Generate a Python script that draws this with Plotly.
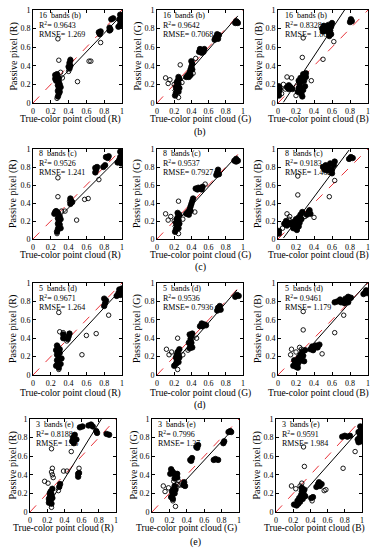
import plotly.graph_objects as go

# ---------------- DATA ----------------
bands = ["16", "8", "5", "3"]
band_tags = ["b", "c", "d", "e"]
channels = ["R", "G", "B"]
tick_vals = [0, 0.2, 0.4, 0.6, 0.8, 1]
tick_text = ["0", "0.2", "0.4", "0.6", "0.8", "1"]

r2_text = [["0.9643", "0.9642", "0.8328"],
           ["0.9526", "0.9537", "0.9183"],
           ["0.9671", "0.9536", "0.9461"],
           ["0.8188", "0.7996", "0.9591"]]
rmse_text = [["1.269", "0.7068", "1.866"],
             ["1.241", "0.7927", "1.462"],
             ["1.264", "0.7936", "1.179"],
             ["1.96", "1.37", "1.984"]]

# regression lines: slope, intercept, x start, x end
fit_R16 = (1.00, -0.05, 0.30, 0.98)
fit_G16 = (1.06, -0.06, 0.18, 0.94)
fit_B16 = (1.46, -0.08, 0.06, 0.74)
fit_R8 = (0.99, -0.05, 0.28, 1.00)
fit_G8 = (1.05, -0.05, 0.18, 0.93)
fit_B8 = (1.34, -0.07, 0.06, 0.79)
fit_R5 = (1.04, -0.10, 0.30, 0.98)
fit_G5 = (1.08, -0.08, 0.18, 0.93)
fit_B5 = (1.10, -0.09, 0.15, 0.99)
fit_R3 = (1.50, -0.245, 0.27, 0.83)
fit_G3 = (1.01, -0.05, 0.22, 0.90)
fit_B3 = (1.04, -0.125, 0.36, 0.97)

R16_dense = [(0.25,0.26),(0.25,0.30),(0.27,0.28),(0.27,0.31),(0.29,0.27),(0.26,0.24),
             (0.28,0.07),(0.29,0.10),(0.28,0.13),(0.30,0.12),(0.29,0.16),(0.28,0.19),(0.30,0.20),(0.29,0.23),(0.31,0.17),
             (0.41,0.37),(0.42,0.40),(0.41,0.43),(0.42,0.46),(0.40,0.39),
             (0.75,0.74),(0.76,0.77),(0.74,0.76),
             (0.86,0.78),(0.86,0.81),(0.87,0.79),
             (0.88,0.90),(0.90,0.91),
             (0.96,0.82),(0.98,0.85),(0.99,0.88),(0.97,0.90),(0.99,0.93),(0.98,0.95),(1.00,0.84),(1.00,0.90)]
R16_sparse = [(0.28,0.69),(0.29,0.46),(0.50,0.23),(0.63,0.45),(0.65,0.45),(0.76,0.65),(0.31,0.33),
              (0.27,0.05),(0.33,0.27),(0.40,0.34),(0.42,0.47)]

G16_dense = [(0.21,0.08),(0.22,0.11),(0.23,0.14),(0.22,0.17),(0.24,0.18),(0.25,0.21),(0.24,0.24),(0.26,0.26),
             (0.23,0.22),(0.25,0.12),(0.26,0.16),(0.25,0.28),
             (0.34,0.28),(0.36,0.30),(0.38,0.33),(0.39,0.36),(0.40,0.39),(0.41,0.42),(0.40,0.45),(0.39,0.30),(0.37,0.28),(0.41,0.36),
             (0.49,0.55),(0.51,0.57),(0.53,0.56),(0.55,0.58),(0.52,0.54),(0.54,0.55),(0.50,0.58),
             (0.67,0.68),(0.69,0.71),(0.70,0.74),(0.72,0.73),(0.68,0.70),(0.71,0.69),
             (0.91,0.86),(0.93,0.87),(0.94,0.86),(0.92,0.88)]
G16_sparse = [(0.10,0.27),(0.15,0.25),(0.13,0.21),(0.27,0.41),(0.25,0.06),(0.42,0.32),(0.20,0.20),(0.29,0.22),(0.45,0.48)]

B16_dense = [(0.01,0.08),(0.01,0.12),(0.02,0.15),(0.01,0.18),
             (0.10,0.17),(0.12,0.15),(0.14,0.17),(0.16,0.15),(0.12,0.19),
             (0.22,0.12),(0.23,0.16),(0.24,0.20),(0.26,0.23),(0.27,0.27),(0.28,0.31),(0.31,0.32),(0.26,0.10),(0.28,0.14),
             (0.30,0.18),(0.25,0.27),(0.23,0.24),(0.29,0.24),(0.27,0.07),(0.31,0.28),(0.25,0.16),
             (0.49,0.80),(0.51,0.83),(0.54,0.80),(0.56,0.84),(0.58,0.78),(0.59,0.74),(0.56,0.76),(0.53,0.78),(0.59,0.82),
             (0.60,0.86),(0.50,0.77),(0.57,0.72),
             (0.80,0.87),(0.81,0.90),(0.82,0.88)]
B16_sparse = [(0.28,0.70),(0.27,0.49),(0.37,0.24),(0.50,0.47),(0.10,0.28),(0.06,0.20),(0.15,0.27),(0.20,0.08),
              (0.04,0.10),(0.62,0.66),(0.08,0.15)]

R8_dense = [(0.24,0.28),(0.26,0.31),(0.28,0.29),(0.25,0.30),
            (0.27,0.08),(0.28,0.11),(0.29,0.14),(0.28,0.17),(0.30,0.16),(0.29,0.20),(0.31,0.22),(0.30,0.25),(0.28,0.23),(0.31,0.12),
            (0.42,0.39),(0.43,0.42),(0.42,0.45),(0.44,0.41),
            (0.70,0.74),(0.71,0.77),(0.72,0.80),(0.70,0.79),
            (0.79,0.80),(0.81,0.82),
            (0.82,0.91),(0.85,0.92),(0.84,0.90),
            (0.95,0.85),(0.97,0.88),(0.99,0.86),(0.98,0.91),(1.00,0.94),(0.98,0.97),(0.99,0.84),(1.00,0.89)]
R8_sparse = [(0.28,0.68),(0.28,0.47),(0.49,0.21),(0.58,0.44),(0.62,0.45),(0.74,0.66),(0.32,0.31),(0.36,0.31),
             (0.41,0.42),(0.27,0.06)]

G8_dense = [(0.21,0.08),(0.22,0.11),(0.23,0.14),(0.22,0.18),(0.24,0.17),(0.25,0.21),(0.24,0.24),(0.26,0.27),
            (0.23,0.22),(0.25,0.12),(0.26,0.17),(0.24,0.29),
            (0.34,0.28),(0.36,0.30),(0.38,0.33),(0.39,0.36),(0.40,0.39),(0.41,0.42),(0.42,0.45),(0.39,0.31),(0.37,0.27),
            (0.45,0.56),(0.48,0.57),(0.50,0.56),(0.53,0.58),(0.47,0.55),(0.52,0.55),
            (0.69,0.71),(0.70,0.74),(0.71,0.77),(0.72,0.72),
            (0.90,0.87),(0.92,0.89),(0.94,0.87),(0.92,0.86)]
G8_sparse = [(0.10,0.28),(0.16,0.25),(0.13,0.21),(0.25,0.42),(0.25,0.06),(0.44,0.30),(0.56,0.61),(0.20,0.20),(0.30,0.22)]

B8_dense = [(0.01,0.06),(0.01,0.09),
            (0.07,0.17),(0.10,0.15),(0.12,0.18),(0.15,0.16),(0.17,0.19),(0.09,0.20),
            (0.17,0.12),(0.19,0.15),(0.20,0.18),(0.22,0.20),(0.23,0.24),(0.25,0.27),(0.21,0.10),(0.23,0.14),
            (0.24,0.18),(0.26,0.22),(0.20,0.22),(0.27,0.30),
            (0.32,0.27),(0.34,0.30),(0.36,0.28),(0.35,0.32),
            (0.50,0.80),(0.53,0.82),(0.56,0.79),(0.58,0.84),(0.60,0.77),(0.62,0.82),(0.63,0.86),(0.55,0.76),(0.60,0.73),(0.52,0.77),
            (0.79,0.89),(0.81,0.91),(0.83,0.90)]
B8_sparse = [(0.22,0.70),(0.22,0.49),(0.40,0.24),(0.57,0.47),(0.10,0.28),(0.13,0.25),(0.63,0.65),(0.12,0.22),
             (0.30,0.25),(0.05,0.12)]

R5_dense = [(0.26,0.27),(0.28,0.30),(0.30,0.28),(0.27,0.32),
            (0.26,0.10),(0.28,0.13),(0.27,0.16),(0.29,0.19),(0.27,0.22),(0.30,0.24),(0.32,0.18),(0.31,0.12),(0.29,0.08),(0.28,0.26),
            (0.34,0.40),(0.34,0.44),
            (0.39,0.39),(0.40,0.42),(0.41,0.45),
            (0.80,0.75),(0.81,0.78),(0.82,0.81),(0.80,0.83),
            (0.94,0.86),(0.96,0.89),(0.98,0.87),(0.99,0.91),(1.00,0.94),(0.97,0.93),(1.00,0.88)]
R5_sparse = [(0.29,0.68),(0.30,0.47),(0.34,0.46),(0.55,0.22),(0.60,0.43),(0.71,0.45),(0.85,0.65),(0.29,0.06),(0.38,0.37)]

G5_dense = [(0.20,0.10),(0.22,0.12),(0.23,0.15),(0.22,0.19),(0.24,0.18),(0.25,0.22),(0.24,0.25),(0.26,0.28),
            (0.23,0.22),(0.25,0.14),(0.26,0.19),
            (0.38,0.29),(0.39,0.32),(0.40,0.35),(0.39,0.39),(0.40,0.42),(0.41,0.45),(0.38,0.44),(0.41,0.30),(0.37,0.35),
            (0.50,0.53),(0.52,0.56),(0.55,0.55),(0.57,0.54),(0.53,0.53),
            (0.70,0.70),(0.71,0.73),(0.73,0.75),(0.74,0.71),
            (0.91,0.85),(0.93,0.87),(0.95,0.86)]
G5_sparse = [(0.11,0.28),(0.17,0.25),(0.14,0.22),(0.24,0.40),(0.24,0.06),(0.46,0.40),(0.30,0.22),(0.36,0.27)]

B5_dense = [(0.17,0.10),(0.19,0.13),(0.20,0.09),(0.22,0.12),(0.21,0.16),(0.23,0.19),(0.24,0.15),(0.25,0.22),
            (0.26,0.18),(0.27,0.25),(0.28,0.21),(0.30,0.27),(0.22,0.08),(0.18,0.16),(0.29,0.15),
            (0.36,0.28),(0.38,0.31),(0.40,0.29),(0.42,0.32),(0.44,0.30),(0.46,0.33),(0.39,0.27),
            (0.63,0.79),(0.66,0.80),(0.69,0.82),(0.72,0.80),(0.75,0.83),(0.78,0.85),(0.74,0.78),(0.70,0.79),(0.78,0.79),(0.81,0.84),
            (0.95,0.88),(0.97,0.90),(0.99,0.89),(0.98,0.92)]
B5_sparse = [(0.28,0.69),(0.28,0.49),(0.49,0.23),(0.63,0.46),(0.73,0.65),(0.15,0.28),(0.20,0.25),(0.24,0.30),
             (0.26,0.28),(0.14,0.22)]

R3_dense = [(0.22,0.10),(0.24,0.13),(0.23,0.16),(0.25,0.19),(0.24,0.22),(0.26,0.25),(0.23,0.20),(0.26,0.15),(0.25,0.09),(0.22,0.14),
            (0.34,0.27),(0.35,0.30),
            (0.49,0.76),(0.50,0.80),(0.52,0.83),(0.54,0.78),(0.51,0.74),
            (0.56,0.38),(0.57,0.42),(0.56,0.41),
            (0.58,0.91),(0.61,0.92),
            (0.68,0.93),(0.71,0.94),(0.73,0.92),
            (0.78,0.85),(0.77,0.87),
            (0.89,0.84),(0.92,0.83)]
R3_sparse = [(0.25,0.68),(0.26,0.47),(0.25,0.43),(0.26,0.40),(0.17,0.33),(0.21,0.31),(0.48,0.65),(0.39,0.44),
             (0.43,0.44),(0.57,0.47),(0.33,0.23),(0.25,0.05),(0.27,0.37)]

G3_dense = [(0.21,0.41),(0.23,0.44),(0.22,0.46),(0.25,0.42),(0.27,0.39),(0.29,0.37),(0.29,0.41),(0.26,0.36),
            (0.22,0.16),(0.24,0.19),(0.23,0.22),(0.25,0.25),(0.26,0.28),(0.24,0.14),(0.26,0.20),(0.27,0.24),
            (0.36,0.29),(0.37,0.32),(0.38,0.28),
            (0.44,0.56),(0.46,0.58),(0.45,0.55),
            (0.51,0.70),(0.53,0.72),(0.52,0.69),
            (0.71,0.56),(0.73,0.57),(0.76,0.56),
            (0.82,0.74),(0.83,0.76),
            (0.88,0.86),(0.90,0.87),(0.91,0.86)]
G3_sparse = [(0.13,0.28),(0.19,0.26),(0.15,0.22),(0.27,0.06),(0.25,0.33),(0.30,0.34),(0.24,0.12),(0.29,0.30),(0.32,0.29)]

B3_dense = [(0.21,0.08),(0.24,0.07),(0.26,0.09),
            (0.25,0.12),(0.27,0.15),(0.29,0.18),(0.30,0.22),(0.32,0.20),(0.33,0.24),(0.31,0.14),(0.28,0.11),(0.34,0.17),(0.30,0.26),
            (0.41,0.15),(0.43,0.16),
            (0.47,0.27),(0.49,0.30),(0.51,0.28),(0.50,0.32),(0.53,0.30),
            (0.77,0.81),(0.80,0.82),(0.83,0.81),(0.86,0.82),
            (0.95,0.78),(0.97,0.80),(0.98,0.84),(0.96,0.86),(0.99,0.89),(0.98,0.92),(1.00,0.81),(0.96,0.75),(0.99,0.76)]
B3_sparse = [(0.32,0.70),(0.33,0.49),(0.58,0.24),(0.78,0.47),(0.92,0.65),(0.18,0.28),(0.23,0.25),(0.28,0.28),
             (0.30,0.31),(0.56,0.23),(0.42,0.12)]

dense_sets = [[R16_dense, G16_dense, B16_dense], [R8_dense, G8_dense, B8_dense],
              [R5_dense, G5_dense, B5_dense], [R3_dense, G3_dense, B3_dense]]
sparse_sets = [[R16_sparse, G16_sparse, B16_sparse], [R8_sparse, G8_sparse, B8_sparse],
               [R5_sparse, G5_sparse, B5_sparse], [R3_sparse, G3_sparse, B3_sparse]]
fits = [[fit_R16, fit_G16, fit_B16], [fit_R8, fit_G8, fit_B8],
        [fit_R5, fit_G5, fit_B5], [fit_R3, fit_G3, fit_B3]]

# ---------------- LAYOUT ----------------
W, H = 376, 550
FONT = "Liberation Serif, Times New Roman, Times, serif"
col_px = [[(33, 122), (157, 243), (278, 368)]] * 3 + [[(30, 116), (152, 239), (276, 362)]]
row_px = [(10, 103), (149, 239), (283, 375), (419, 512)]
xtitle_y = [120, 255, 393, 528]
xtitle_cx = [[70, 200, 318]] * 3 + [[63, 186, 314]]
ytitle_x = [[13, 137, 258]] * 3 + [[12, 133, 256]]
label_y = [132, 267, 405, 542]

fig = go.Figure()
layout = dict(width=W, height=H, margin=dict(l=0, r=0, t=0, b=0),
              paper_bgcolor="white", plot_bgcolor="white", showlegend=False,
              font=dict(family=FONT, color="black"))
annotations = []

k = 0
for r in range(4):
    for c in range(3):
        k += 1
        xa = "x" if k == 1 else f"x{k}"
        ya = "y" if k == 1 else f"y{k}"
        xkey = "xaxis" if k == 1 else f"xaxis{k}"
        ykey = "yaxis" if k == 1 else f"yaxis{k}"
        x0, x1 = col_px[r][c]
        y0, y1 = row_px[r]
        common = dict(range=[0, 1], tickvals=tick_vals, ticktext=tick_text, ticks="inside", ticklen=3,
                      tickwidth=0.8, tickcolor="black", mirror="allticks", showline=True, linecolor="black",
                      linewidth=0.8, showgrid=False, zeroline=False, automargin=False,
                      tickfont=dict(size=8, family=FONT, color="black"), fixedrange=True)
        layout[xkey] = dict(common, domain=[x0 / W, x1 / W], anchor=ya)
        layout[ykey] = dict(common, domain=[1 - y1 / H, 1 - y0 / H], anchor=xa)

        # axis titles
        annotations.append(dict(x=xtitle_cx[r][c] / W, y=1 - xtitle_y[r] / H, xref="paper", yref="paper",
                                text=f"True-color point cloud ({channels[c]})", showarrow=False,
                                xanchor="center", yanchor="middle", font=dict(size=9.5, family=FONT, color="black")))
        annotations.append(dict(x=ytitle_x[r][c] / W, y=1 - (y0 + y1) / 2 / H, xref="paper", yref="paper",
                                text=f"Passive pixel ({channels[c]})", showarrow=False, textangle=-90,
                                xanchor="center", yanchor="middle", font=dict(size=10, family=FONT, color="black")))

        # 1:1 reference line
        fig.add_trace(go.Scatter(x=[0, 1], y=[0, 1], mode="lines", xaxis=xa, yaxis=ya,
                                 line=dict(color="#e8333a", width=1, dash="dash"), hoverinfo="skip"))
        # data points
        d = dense_sets[r][c]
        s = sparse_sets[r][c]
        fig.add_trace(go.Scatter(x=[p[0] for p in d], y=[p[1] for p in d], mode="markers", xaxis=xa, yaxis=ya,
                                 marker=dict(symbol="circle", size=5.5, color="black",
                                             line=dict(width=0.8, color="black"))))
        fig.add_trace(go.Scatter(x=[p[0] for p in s], y=[p[1] for p in s], mode="markers", xaxis=xa, yaxis=ya,
                                 marker=dict(symbol="circle-open", size=4.5, color="black", line=dict(width=0.9))))
        # regression line
        a, b, fx0, fx1 = fits[r][c]
        fig.add_trace(go.Scatter(x=[fx0, fx1], y=[a * fx0 + b, a * fx1 + b], mode="lines", xaxis=xa, yaxis=ya,
                                 line=dict(color="black", width=1), hoverinfo="skip"))

        texts = [f"{bands[r]}  bands ({band_tags[r]})", f"R<sup>2</sup>= {r2_text[r][c]}", f"RMSE= {rmse_text[r][c]}"]
        for i, t in enumerate(texts):
            annotations.append(dict(x=0.05, y=0.945 - 0.105 * i, xref=xa, yref=ya, text=t, showarrow=False,
                                    xanchor="left", yanchor="middle", font=dict(size=8, family=FONT, color="black")))
    # sub-figure label under the middle column
    cx = (col_px[r][1][0] + col_px[r][1][1]) / 2
    annotations.append(dict(x=cx / W, y=1 - label_y[r] / H, xref="paper", yref="paper",
                            text=f"({band_tags[r]})", showarrow=False, xanchor="center", yanchor="middle",
                            font=dict(size=10, family=FONT, color="black")))

layout["annotations"] = annotations
fig.update_layout(**layout)
fig.write_html("out.html", config={"displayModeBar": False},
               post_script="document.body.style.margin='0';document.body.style.padding='0';")
